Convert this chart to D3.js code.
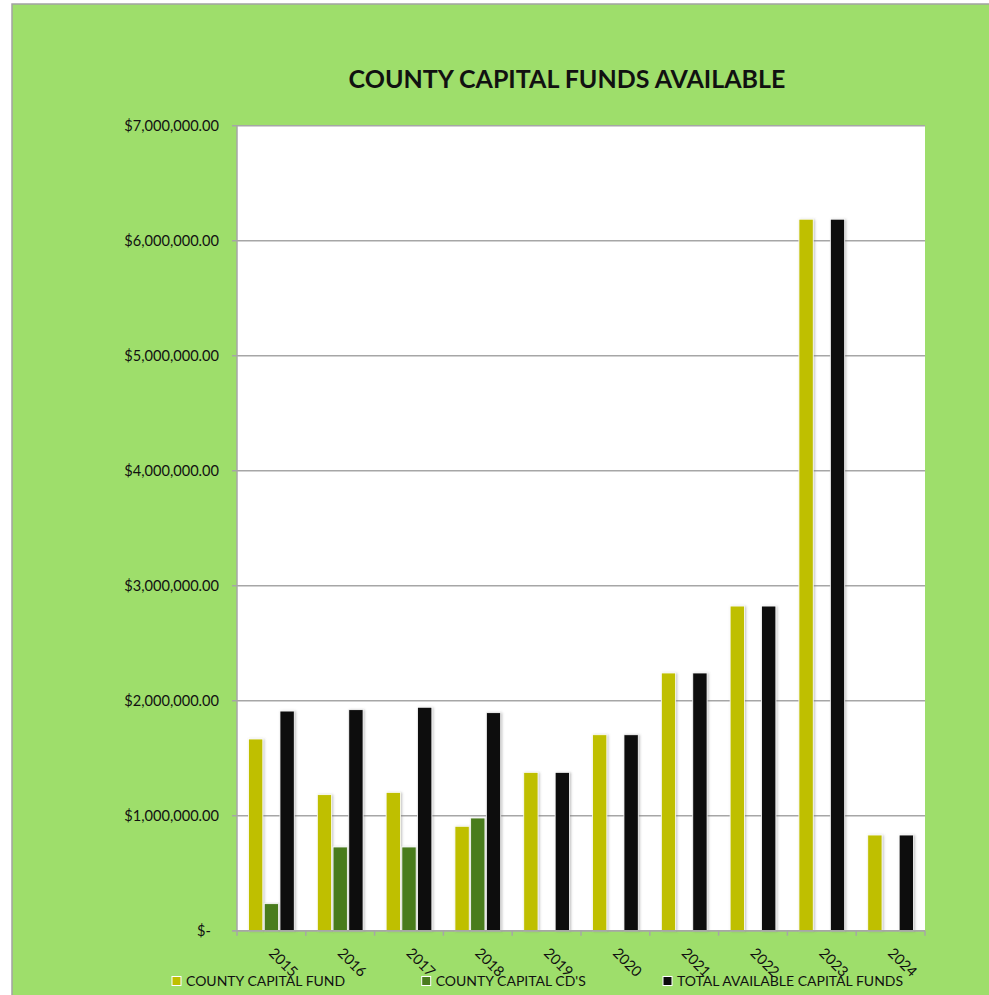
<!DOCTYPE html>
<html><head><meta charset="utf-8">
<script src="https://cdn.jsdelivr.net/npm/d3@7"></script>
<style>
html,body{margin:0;padding:0;background:#fff;}
svg{display:block;}
text{font-family:Lato,"Open Sans","DejaVu Sans",sans-serif;fill:#111;}
</style></head>
<body>
<svg id="chart" width="989" height="995"></svg>
<script>
const years = ["2015","2016","2017","2018","2019","2020","2021","2022","2023","2024"];
const seriesNames = ["COUNTY CAPITAL FUND","COUNTY CAPITAL CD'S","TOTAL AVAILABLE CAPITAL FUNDS"];
const capitalFund = [1667000,1183000,1203000,908000,1377000,1704000,2241000,2823000,6187000,832000];
const capitalCDs  = [235000,728000,728000,980000,null,null,null,null,null,null];
const totalFunds  = [1910000,1922000,1943000,1896000,1377000,1704000,2241000,2823000,6187000,832000];
const yTicks = [0,1000000,2000000,3000000,4000000,5000000,6000000,7000000];
const yTickLabels = ["$-","$1,000,000.00","$2,000,000.00","$3,000,000.00","$4,000,000.00","$5,000,000.00","$6,000,000.00","$7,000,000.00"];
const title = "COUNTY CAPITAL FUNDS AVAILABLE";
const colors = ["#bfbf00","#4a7b1f","#0d0d0d"];

const svg = d3.select("#chart");
const W = 989, H = 995;
const plot = {left:237, right:925, top:125.7, bottom:930.7};

// background
svg.append("rect").attr("x",0).attr("y",0).attr("width",W).attr("height",H).attr("fill","#fff");
svg.append("rect").attr("x",12).attr("y",4).attr("width",W).attr("height",H)
  .attr("fill","#9ede6b").attr("stroke","#a3a3a3").attr("stroke-width",1.5);

const defs = svg.append("defs");
const f = defs.append("filter").attr("id","sh").attr("x","-50%").attr("y","-5%").attr("width","200%").attr("height","110%");
f.append("feDropShadow").attr("dx",1.2).attr("dy",0.5).attr("stdDeviation",1).attr("flood-color","#777").attr("flood-opacity",0.45);

// plot area
svg.append("rect").attr("x",plot.left).attr("y",plot.top)
  .attr("width",plot.right-plot.left).attr("height",plot.bottom-plot.top).attr("fill","#fff");

const x = d3.scaleBand().domain(years).range([plot.left,plot.right]).paddingInner(0).paddingOuter(0);
const x1 = d3.scaleBand().domain(seriesNames).range([0,x.bandwidth()]).paddingInner(0.09).paddingOuter(0.734);
const y = d3.scaleLinear().domain([0,7000000]).range([plot.bottom,plot.top]);

// gridlines
svg.append("g").selectAll("line").data(yTicks).join("line")
  .attr("x1",plot.left-5).attr("x2",plot.right)
  .attr("y1",d=>y(d)).attr("y2",d=>y(d))
  .attr("stroke","#a6a6a6").attr("stroke-width",1.5);

// y labels
svg.append("g").selectAll("text").data(yTicks).join("text")
  .attr("x",(d,i)=> i===0 ? 211 : 219)
  .attr("y",d=>y(d)+5)
  .attr("text-anchor","end")
  .attr("font-size",14.6)
  .text((d,i)=>yTickLabels[i]);

// bars
const seriesData = [capitalFund, capitalCDs, totalFunds];
const gBars = svg.append("g");
seriesData.forEach((vals,si)=>{
  gBars.append("g").selectAll("rect").data(years.map((yr,i)=>({yr,v:vals[i]})).filter(d=>d.v!=null)).join("rect")
    .attr("x",d=>x(d.yr)+x1(seriesNames[si]))
    .attr("width",x1.bandwidth())
    .attr("y",d=>y(d.v))
    .attr("height",d=>y(0)-y(d.v))
    .attr("fill",colors[si])
    .attr("stroke","#fff").attr("stroke-width",0.8)
    .attr("filter","url(#sh)");
});

// axes lines
svg.append("line").attr("x1",plot.left).attr("x2",plot.left).attr("y1",plot.top).attr("y2",plot.bottom)
  .attr("stroke","#a6a6a6").attr("stroke-width",1.5);
svg.append("line").attr("x1",plot.left-5).attr("x2",plot.right).attr("y1",plot.bottom).attr("y2",plot.bottom)
  .attr("stroke","#a6a6a6").attr("stroke-width",1.5);
const bounds = years.map(yr=>x(yr)).concat([plot.right]);
svg.append("g").selectAll("line").data(bounds).join("line")
  .attr("x1",d=>d).attr("x2",d=>d).attr("y1",plot.bottom).attr("y2",plot.bottom+5)
  .attr("stroke","#a6a6a6").attr("stroke-width",1.5);

// x labels rotated
svg.append("g").selectAll("text").data(years).join("text")
  .attr("transform",d=>`translate(${x(d)+x.bandwidth()/2-3.5},954) rotate(45)`)
  .attr("font-size",14.5)
  .text(d=>d);

// title
svg.append("text").attr("x",567).attr("y",88).attr("text-anchor","middle")
  .attr("font-size",25).attr("font-weight","bold").text(title);

// legend
const legendX = [172, 421.7, 663];
const lg = svg.append("g");
seriesNames.forEach((n,i)=>{
  lg.append("rect").attr("x",legendX[i]).attr("y",976.5).attr("width",9).attr("height",9)
    .attr("fill",colors[i]).attr("stroke","#fff").attr("stroke-width",1);
  lg.append("text").attr("x",legendX[i]+14).attr("y",986).attr("font-size",14).text(n);
});
</script>
</body></html>
